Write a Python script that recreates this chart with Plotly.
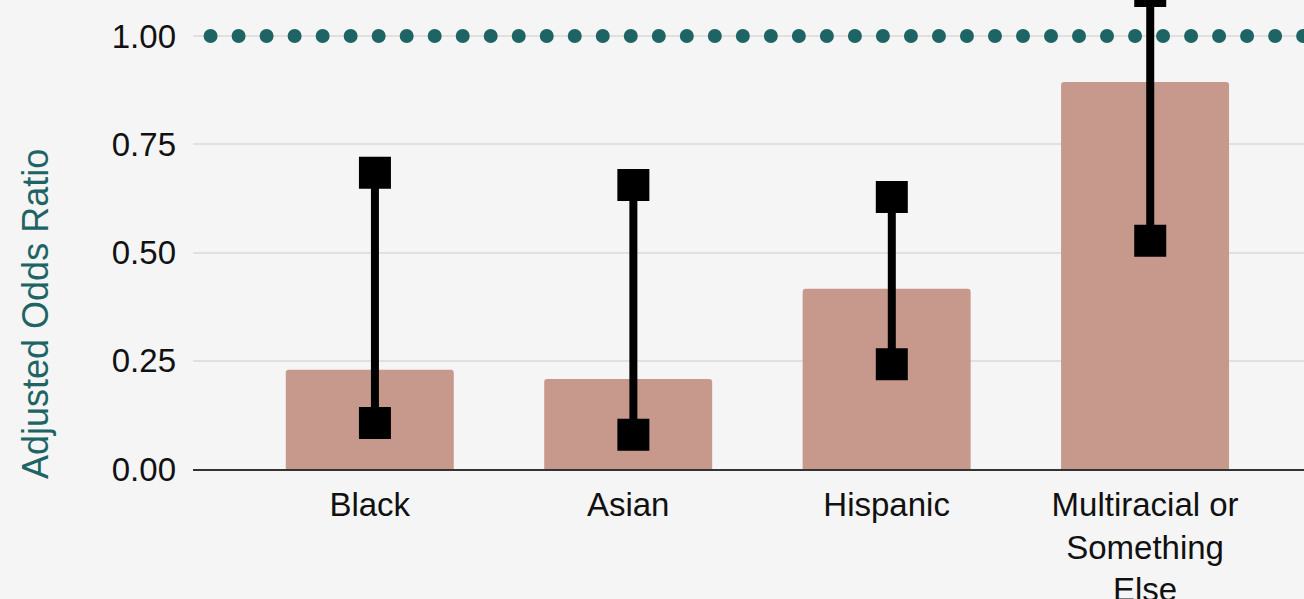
import numpy as np
import plotly.graph_objects as go

categories = ["Black", "Asian", "Hispanic", "Multiracial or<br>Something<br>Else"]
odds_ratio = [0.229, 0.208, 0.416, 0.894]
ci_lower = [0.106, 0.079, 0.242, 0.527]
ci_upper = [0.684, 0.656, 0.628, 1.104]
reference_value = 1.0
y_ticks = [0.0, 0.25, 0.5, 0.75, 1.0]
y_tick_labels = ["0.00", "0.25", "0.50", "0.75", "1.00"]
y_title = "Adjusted Odds Ratio"

TEAL = "#1e6464"
BAR = "#c6998c"
BG = "#f5f5f5"
CI_SHIFT = 0.02  # interval whiskers sit slightly right of bar centres

# the chart continues above the visible window; the page is scrolled up by HIDDEN px
HIDDEN = 24
PLOT_H = 469 + HIDDEN
PX_PER_UNIT = 433

x_pos = list(range(len(categories)))
x_min, x_max = -0.684, 3.615

fig = go.Figure()

fig.add_trace(go.Bar(
    x=x_pos, y=odds_ratio, width=0.65,
    marker=dict(color=BAR, cornerradius=3, line=dict(width=0)),
    hoverinfo="skip", showlegend=False,
))

# reference line at 1.00 drawn as round dots
dot_x = np.arange(-0.616, x_max + 0.05, 0.1084)
fig.add_trace(go.Scatter(
    x=dot_x, y=[reference_value] * len(dot_x), mode="markers",
    marker=dict(symbol="circle", size=14, color=TEAL, line=dict(width=0)),
    hoverinfo="skip", showlegend=False, cliponaxis=False,
))

# confidence intervals
ex, ey = [], []
for i, lo, hi in zip(x_pos, ci_lower, ci_upper):
    ex += [i + CI_SHIFT, i + CI_SHIFT, None]
    ey += [lo, hi, None]
fig.add_trace(go.Scatter(
    x=ex, y=ey, mode="lines+markers",
    line=dict(color="black", width=8),
    marker=dict(symbol="square", size=28, color="black",
                line=dict(color="black", width=4)),
    hoverinfo="skip", showlegend=False, cliponaxis=False,
))

fig.update_layout(
    width=1304, height=599 + HIDDEN,
    margin=dict(l=193, r=0, t=0, b=130, autoexpand=False),
    paper_bgcolor=BG, plot_bgcolor=BG,
    font=dict(family="Liberation Sans, Arial, sans-serif", size=33, color="#111111"),
    bargap=0.35,
    annotations=[dict(
        text=y_title, textangle=-90, xref="paper", yref="paper",
        x=(35 - 193) / 1111, y=(469 - 314) / PLOT_H, xanchor="center", yanchor="middle",
        showarrow=False, font=dict(size=36, color=TEAL),
    )],
)
fig.update_xaxes(
    range=[x_min, x_max], tickvals=x_pos, ticktext=categories, automargin=False,
    showgrid=False, zeroline=False, showline=True, linecolor="#333333", linewidth=2,
    ticks="", ticklabelstandoff=5, tickfont=dict(size=33, color="#111111"),
)
fig.update_yaxes(
    range=[0, PLOT_H / PX_PER_UNIT], tickvals=y_ticks, ticktext=y_tick_labels,
    automargin=False,
    showgrid=True, gridcolor="#e0e0e0", gridwidth=2, zeroline=False,
    showline=False, ticks="", ticklabelstandoff=16,
    tickfont=dict(size=33, color="#111111"),
)

fig.write_html(
    "out.html",
    config={"displayModeBar": False, "staticPlot": True},
    post_script=(
        "document.body.style.margin='0';"
        "document.body.style.marginTop='-%dpx';"
        "document.body.style.overflow='hidden';"
        "document.body.style.background='#f5f5f5';" % HIDDEN
    ),
)
